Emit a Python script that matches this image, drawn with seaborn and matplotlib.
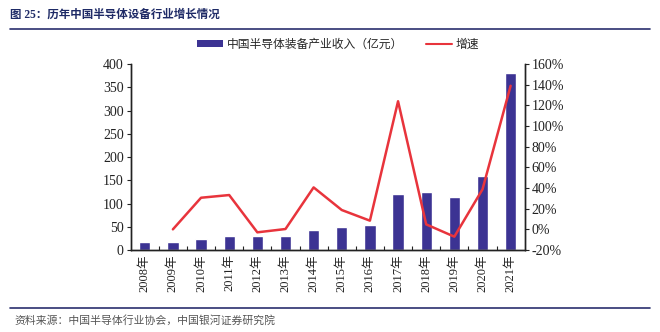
import matplotlib
matplotlib.use("Agg")
import matplotlib.pyplot as plt
import seaborn as sns
import pandas as pd
import numpy as np
from matplotlib.ticker import PercentFormatter, FixedLocator
from matplotlib.lines import Line2D
from matplotlib.patches import Patch

years = ["2008年", "2009年", "2010年", "2011年", "2012年", "2013年", "2014年",
         "2015年", "2016年", "2017年", "2018年", "2019年", "2020年", "2021年"]
revenue = [18, 18, 24, 31, 30, 30, 42, 49, 54, 120, 124, 115, 160, 380]
growth_years = years[1:]
growth = [0.0, 30.6, 33.2, -2.9, 0.3, 40.6, 18.7, 8.4, 124.0, 4.8, -7.1, 38.7, 139.0]

bar_label = "中国半导体装备产业收入（亿元）"
line_label = "增速"
title = "图 25：历年中国半导体设备行业增长情况"
source = "资料来源：中国半导体行业协会，中国银河证券研究院"

sns.set_theme(style="white")
plt.rcParams['font.family'] = ['Liberation Serif', 'Noto Sans CJK SC', 'DejaVu Sans']
plt.rcParams['axes.unicode_minus'] = False

bar_color = "#3C3393"
line_color = "#E8343C"

fig = plt.figure(figsize=(6.6, 3.32), dpi=100)
ax = fig.add_axes([0.198, 0.247, 0.597, 0.56])

df_bar = pd.DataFrame({"year": years, "revenue": revenue})
sns.barplot(data=df_bar, x="year", y="revenue", color=bar_color, width=0.4,
            saturation=1, ax=ax)

ax2 = ax.twinx()
df_line = pd.DataFrame({"year": growth_years, "growth": growth})
sns.lineplot(data=df_line, x="year", y="growth", color=line_color, lw=1.8,
             ax=ax2, sort=False)

ax.set_xlim(-0.5, len(years) - 0.5)
ax.set_ylim(0, 400)
ax.set_yticks(np.arange(0, 401, 50))
ax2.set_ylim(-20, 160)
ax2.set_yticks(np.arange(-20, 161, 20))
ax2.yaxis.set_major_formatter(PercentFormatter(decimals=0))

for a in (ax, ax2):
    a.set_xlabel("")
    a.set_ylabel("")
    a.spines["top"].set_visible(False)
    for s in ("left", "right", "bottom"):
        a.spines[s].set_color("#222222")
        a.spines[s].set_linewidth(1.0)

ax.tick_params(axis="y", direction="out", length=3, width=0.8, colors="#222222",
               labelsize=10, pad=2, left=True)
ax2.tick_params(axis="y", direction="out", length=3, width=0.8, colors="#222222",
                labelsize=10, pad=2, right=True)
ax.tick_params(axis="x", which="major", length=0, labelsize=9, pad=3,
               labelrotation=90, labelcolor="#222222")
ax.xaxis.set_minor_locator(FixedLocator(np.arange(0.5, len(years) - 1, 1)))
ax.tick_params(axis="x", which="minor", direction="in", length=3, width=0.8,
               color="#222222", bottom=True)
for lab in ax.get_xticklabels():
    lab.set_family(['Liberation Serif', 'Noto Sans CJK SC'])

handles = [Patch(facecolor=bar_color, edgecolor="none"),
           Line2D([0], [0], color=line_color, lw=1.5)]
fig.legend(handles, [bar_label, line_label], loc="center left",
           bbox_to_anchor=(0.299, 0.867), ncol=2, frameon=False,
           prop={"family": ["Noto Sans CJK SC"], "size": 8.5},
           handlelength=2.2, handleheight=0.5, columnspacing=1.9,
           handletextpad=0.3, borderaxespad=0, borderpad=0)

fig.text(0.015, 0.955, title, ha="left", va="center", fontsize=8.3,
         fontweight="bold", color="#1E2A66",
         family=["Liberation Serif", "Noto Sans CJK SC"])
fig.add_artist(Line2D([0.015, 0.985], [0.912, 0.912], color="#2A2F6E", lw=1.2,
                      transform=fig.transFigure))
fig.add_artist(Line2D([0.015, 0.985], [0.073, 0.073], color="#2A2F6E", lw=1.2,
                      transform=fig.transFigure))
fig.text(0.022, 0.035, source, ha="left", va="center", fontsize=7.8,
         style="italic", color="#555555", family=["Noto Sans CJK SC"])

fig.savefig("out.png", dpi=100)
